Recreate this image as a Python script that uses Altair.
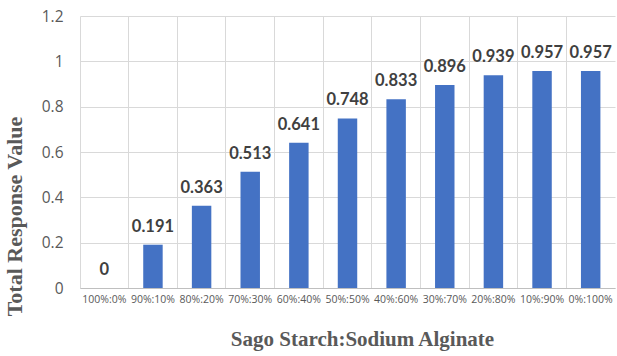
import altair as alt
import pandas as pd

# Blend ratios (sago starch : sodium alginate) and total response values
ratios = ["100%:0%", "90%:10%", "80%:20%", "70%:30%", "60%:40%", "50%:50%",
          "40%:60%", "30%:70%", "20%:80%", "10%:90%", "0%:100%"]
response = [0, 0.191, 0.363, 0.513, 0.641, 0.748, 0.833, 0.896, 0.939, 0.957, 0.957]

df = pd.DataFrame({"ratio": ratios, "value": response})

x_enc = alt.X(
    "ratio:N",
    sort=ratios,
    scale=alt.Scale(paddingInner=0, paddingOuter=0),
    axis=alt.Axis(
        title="Sago Starch:Sodium Alginate",
        titleFont="Liberation Serif",
        titleFontSize=21,
        titleFontWeight="bold",
        titleColor="#595959",
        titleX=282,
        titleY=57,
        titleBaseline="alphabetic",
        labelAngle=0,
        labelFont="Open Sans",
        labelFontSize=10.5,
        labelColor="#595959",
        labelPadding=6,
        ticks=False,
        bandPosition=0,
        grid=True,
        gridColor="#d9d9d9",
        gridWidth=1,
        domainColor="#bfbfbf",
        domainWidth=1.2,
    ),
)

y_enc = alt.Y(
    "value:Q",
    scale=alt.Scale(domain=[0, 1.2], nice=False),
    axis=alt.Axis(
        title="Total Response Value",
        titleFont="Liberation Serif",
        titleFontSize=22,
        titleFontWeight="bold",
        titleColor="#595959",
        titleX=-54,
        titleY=200,
        values=[0, 0.2, 0.4, 0.6, 0.8, 1.0, 1.2],
        format="~g",
        labelFont="Open Sans",
        labelFontSize=15.5,
        labelColor="#595959",
        labelPadding=17,
        ticks=False,
        domain=False,
        grid=True,
        gridColor="#d9d9d9",
        gridWidth=1,
    ),
)

bars = alt.Chart(df).mark_bar(
    color="#4472C4", width=alt.RelativeBandSize(0.4)
).encode(x=x_enc, y=y_enc)

labels = alt.Chart(df).mark_text(
    font="Lato", fontSize=16.5, fontWeight="bold", color="#404040",
    baseline="alphabetic", dy=-13,
).encode(
    x=alt.X("ratio:N", sort=ratios),
    y=alt.Y("value:Q"),
    text=alt.Text("value:Q", format="~g"),
)

chart = (
    alt.layer(bars, labels)
    .properties(
        width=535,
        height=272,
        autosize=alt.AutoSizeParams(type="none"),
        padding={"left": 80, "top": 16, "right": 2, "bottom": 68},
        background="white",
    )
    .configure_view(stroke=None)
)

chart.save("out.html", embed_options={"renderer": "svg", "actions": False})
